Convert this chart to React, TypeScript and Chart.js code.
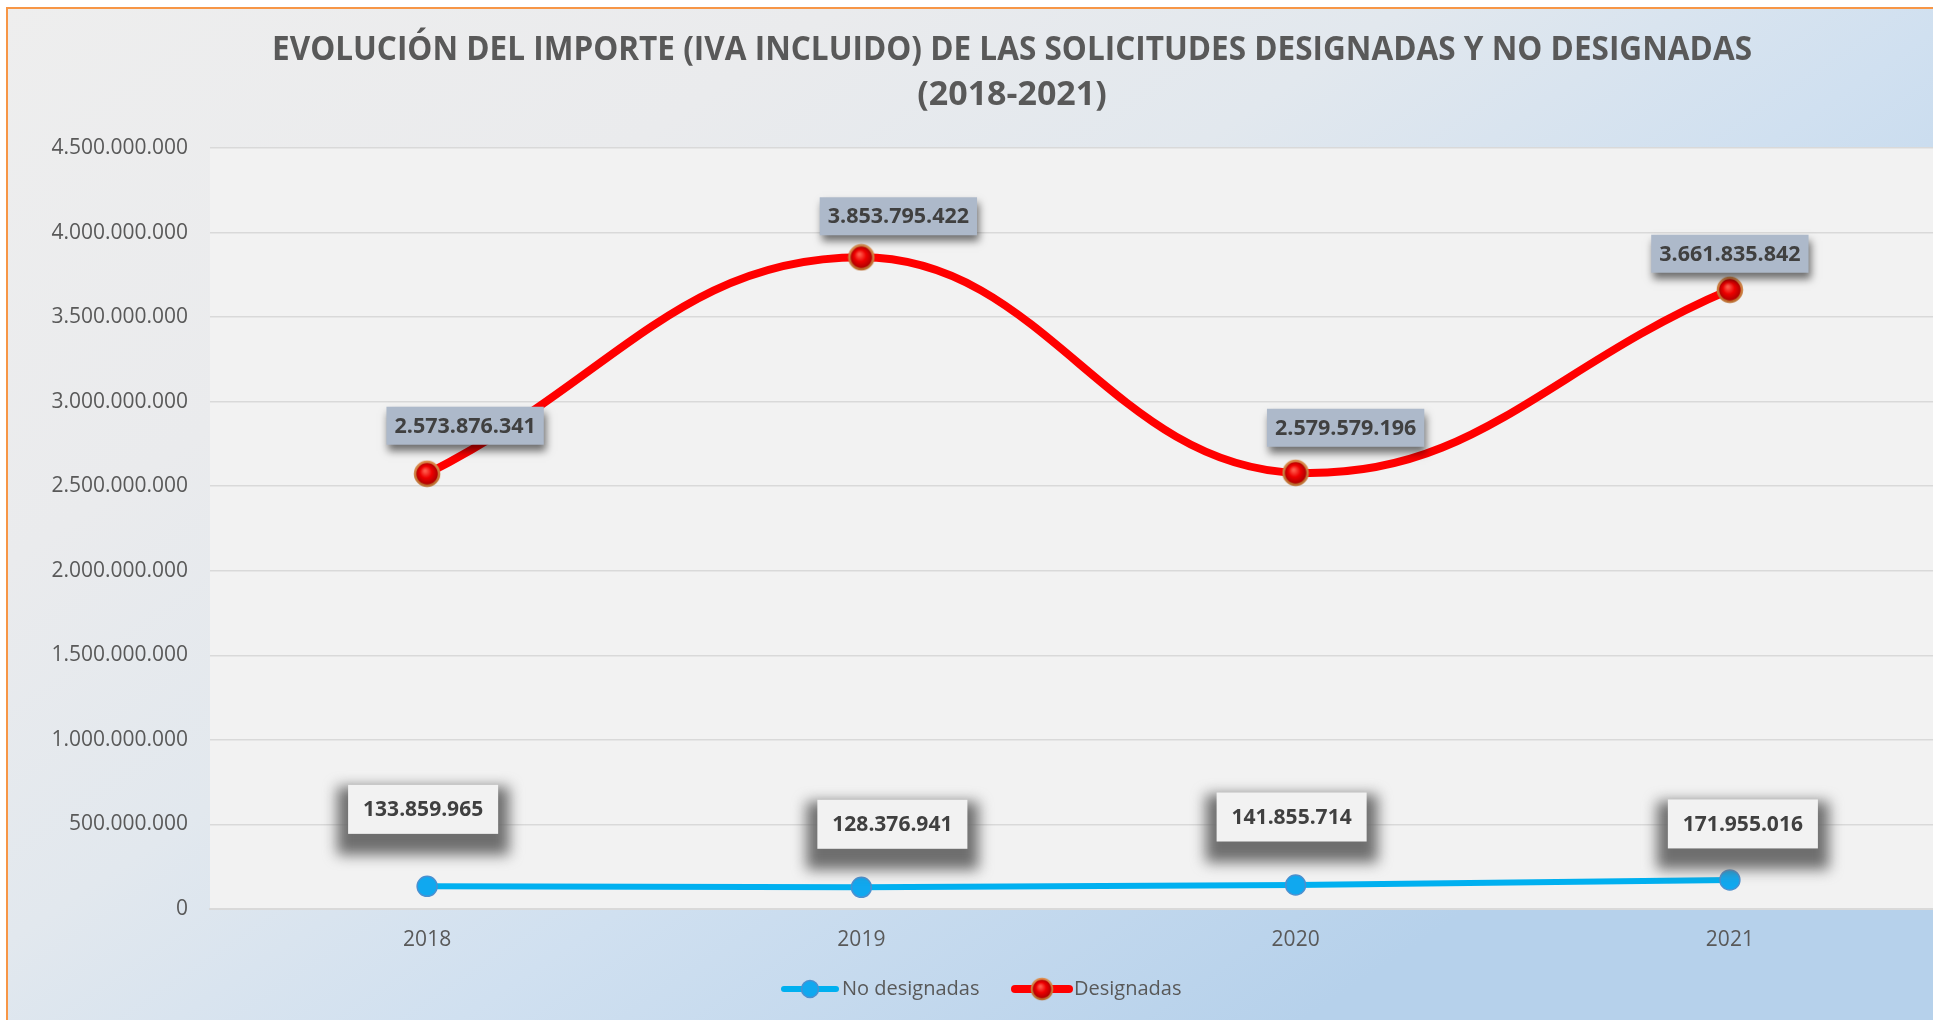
import React, { useEffect, useRef } from "react";
import { Chart, registerables } from "chart.js";

Chart.register(...registerables);

// ---------- data ----------
const years = ["2018", "2019", "2020", "2021"];
const noDesignadas = [133859965, 128376941, 141855714, 171955016];
const designadas = [2573876341, 3853795422, 2579579196, 3661835842];
const seriesNames = ["No designadas", "Designadas"];
const titleLines = [
  "EVOLUCIÓN DEL IMPORTE (IVA INCLUIDO) DE LAS SOLICITUDES DESIGNADAS Y NO DESIGNADAS",
  "(2018-2021)",
];
const yMin = 0;
const yMax = 4500000000;
const yStep = 500000000;

// label placement (offset of label centre from its point, px)
const noDesigLabelOffsets = [
  [-4, -77],
  [31, -63],
  [-4, -68],
  [13, -56],
];
const desigLabelOffsets = [
  [38, -48],
  [37, -41],
  [50, -45],
  [0, -36],
];

// ---------- helpers ----------
const FONT = "'Open Sans', 'DejaVu Sans', sans-serif";
const fmt = (n: number) => String(Math.round(n)).replace(/\B(?=(\d{3})+(?!\d))/g, ".");

const BLUE = "#00b0f0";
const RED = "#ff0000";
const CANVAS_W = 1968;
const CANVAS_H = 1020;

function makeRedPoint(): HTMLCanvasElement {
  const c = document.createElement("canvas");
  const s = 28;
  c.width = s;
  c.height = s;
  const g = c.getContext("2d")!;
  const r = 12;
  const grad = g.createRadialGradient(s / 2 - 2, s / 2 - 3, 1, s / 2, s / 2, r);
  grad.addColorStop(0, "#ff5a4a");
  grad.addColorStop(0.45, "#ee0000");
  grad.addColorStop(1, "#a00000");
  g.beginPath();
  g.arc(s / 2, s / 2, r, 0, Math.PI * 2);
  g.fillStyle = grad;
  g.fill();
  g.lineWidth = 2.5;
  const ring = g.createLinearGradient(0, 0, 0, s);
  ring.addColorStop(0, "#e09050");
  ring.addColorStop(1, "#b8682a");
  g.strokeStyle = ring;
  g.stroke();
  return c;
}

export default function App() {
  const ref = useRef<HTMLCanvasElement | null>(null);

  useEffect(() => {
    const canvas = ref.current!;
    const redPoint = makeRedPoint();

    const bgPlugin = {
      id: "bgPlugin",
      beforeDraw(chart: any) {
        const { ctx, width: W, height: H, chartArea: ca } = chart;
        ctx.save();
        ctx.fillStyle = "#ffffff";
        ctx.fillRect(0, 0, W, H);
        const g = ctx.createLinearGradient(0, 0, 1946 * 0.45, H * 0.9 + 1946 * 0.2);
        g.addColorStop(0, "#eeeeee");
        g.addColorStop(0.3, "#eaebed");
        g.addColorStop(0.5, "#e2e8ee");
        g.addColorStop(0.7, "#d0e0f0");
        g.addColorStop(1, "#b6d1eb");
        ctx.fillStyle = g;
        ctx.fillRect(7, 8, W, H);
        // orange border
        ctx.strokeStyle = "#f79646";
        ctx.lineWidth = 2;
        ctx.beginPath();
        ctx.moveTo(7, H + 5);
        ctx.lineTo(7, 8);
        ctx.lineTo(W + 5, 8);
        ctx.stroke();
        // plot area
        ctx.fillStyle = "#f2f2f2";
        ctx.fillRect(ca.left, ca.top, ca.right - ca.left, ca.bottom - ca.top);
        // title
        ctx.fillStyle = "#595959";
        ctx.font = `bold 34px ${FONT}`;
        ctx.textAlign = "center";
        ctx.textBaseline = "middle";
        ctx.fillText(titleLines[0], 1012, 50, 1480);
        ctx.fillText(titleLines[1], 1012, 95);
        ctx.restore();
      },
      afterDatasetsDraw(chart: any) {
        const ctx = chart.ctx as CanvasRenderingContext2D;
        ctx.save();
        ctx.textAlign = "center";
        ctx.textBaseline = "middle";
        // No designadas labels (white boxes, heavy soft shadow)
        ctx.font = `bold 21px ${FONT}`;
        const m0 = chart.getDatasetMeta(0);
        m0.data.forEach((pt: any, i: number) => {
          const txt = fmt(noDesignadas[i]);
          const w = ctx.measureText(txt).width + 30;
          const h = 49;
          const cx = pt.x + noDesigLabelOffsets[i][0];
          const cy = pt.y + noDesigLabelOffsets[i][1];
          const x = cx - w / 2;
          const y = cy - h / 2;
          ctx.save();
          ctx.filter = "blur(7px)";
          ctx.fillStyle = "rgba(105,105,105,0.97)";
          ctx.fillRect(x - 11, y + 2, w + 22, h + 19);
          ctx.restore();
          ctx.fillStyle = "#f2f2f2";
          ctx.fillRect(x, y, w, h);
          ctx.fillStyle = "#404040";
          ctx.fillText(txt, cx, cy + 1);
        });
        // Designadas labels (blue-grey boxes, small shadow)
        ctx.font = `bold 21.5px ${FONT}`;
        const m1 = chart.getDatasetMeta(1);
        m1.data.forEach((pt: any, i: number) => {
          const txt = fmt(designadas[i]);
          const w = ctx.measureText(txt).width + 16;
          const h = 38;
          const cx = pt.x + desigLabelOffsets[i][0];
          const cy = pt.y + desigLabelOffsets[i][1];
          const x = cx - w / 2;
          const y = cy - h / 2;
          ctx.save();
          ctx.shadowColor = "rgba(0,0,0,0.55)";
          ctx.shadowBlur = 8;
          ctx.shadowOffsetX = 2;
          ctx.shadowOffsetY = 6;
          ctx.fillStyle = "#adb9ca";
          ctx.fillRect(x, y, w, h);
          ctx.restore();
          ctx.fillStyle = "#404040";
          ctx.fillText(txt, cx, cy + 1);
        });
        ctx.restore();
      },
      afterDraw(chart: any) {
        const ctx = chart.ctx as CanvasRenderingContext2D;
        const ly = 989;
        ctx.save();
        // legend: No designadas
        ctx.lineCap = "round";
        ctx.strokeStyle = BLUE;
        ctx.lineWidth = 6;
        ctx.beginPath();
        ctx.moveTo(784, ly);
        ctx.lineTo(836, ly);
        ctx.stroke();
        ctx.beginPath();
        ctx.arc(810, ly, 8.5, 0, Math.PI * 2);
        ctx.fillStyle = "#10a8ef";
        ctx.fill();
        ctx.strokeStyle = "#4a90d0";
        ctx.lineWidth = 1.5;
        ctx.stroke();
        ctx.font = `20px ${FONT}`;
        ctx.fillStyle = "#595959";
        ctx.textAlign = "left";
        ctx.textBaseline = "middle";
        ctx.fillText(seriesNames[0], 842, ly);
        // legend: Designadas
        ctx.strokeStyle = RED;
        ctx.lineWidth = 8;
        ctx.beginPath();
        ctx.moveTo(1015, ly);
        ctx.lineTo(1069, ly);
        ctx.stroke();
        ctx.drawImage(redPoint, 1042 - 12, ly - 12, 24, 24);
        ctx.fillStyle = "#595959";
        ctx.fillText(seriesNames[1], 1074, ly);
        ctx.restore();
      },
    };

    const chart = new Chart(canvas, {
      type: "line",
      data: {
        labels: years,
        datasets: [
          {
            label: seriesNames[0],
            data: noDesignadas,
            borderColor: BLUE,
            borderWidth: 6,
            backgroundColor: "#10a8ef",
            pointBackgroundColor: "#10a8ef",
            pointBorderColor: "#4a90d0",
            pointBorderWidth: 1.5,
            pointRadius: 10,
            tension: 0,
          },
          {
            label: seriesNames[1],
            data: designadas,
            borderColor: RED,
            borderWidth: 8,
            backgroundColor: RED,
            pointStyle: redPoint as any,
            pointRadius: 13,
            tension: 0.42,
          },
        ],
      },
      options: {
        responsive: false,
        animation: false,
        devicePixelRatio: 1,
        layout: { padding: { top: 148, right: 9, bottom: 0, left: 0 } },
        plugins: {
          legend: { display: false },
          title: { display: false },
          tooltip: { enabled: false },
        },
        scales: {
          x: {
            offset: true,
            grid: { display: false, drawTicks: false },
            border: { display: true, color: "#d9d9d9", width: 2 },
            ticks: {
              color: "#595959",
              font: { family: FONT, size: 21 },
              padding: 18,
            },
            afterFit(scale: any) {
              scale.height = 111;
            },
          },
          y: {
            min: yMin,
            max: yMax,
            grid: { color: "#d9d9d9", lineWidth: 1.5, drawTicks: false },
            border: { display: false },
            ticks: {
              stepSize: yStep,
              color: "#595959",
              font: { family: FONT, size: 21 },
              padding: 22,
              callback: (v: any) => fmt(Number(v)),
            },
            afterFit(scale: any) {
              scale.width = 210;
            },
          },
        },
      },
      plugins: [bgPlugin],
    });

    return () => chart.destroy();
  }, []);

  return (
    <div
      style={{
        position: "absolute",
        left: 0,
        top: 0,
        width: 1933,
        height: 1020,
        overflow: "hidden",
        background: "#ffffff",
      }}
    >
      <canvas
        ref={ref}
        width={CANVAS_W}
        height={CANVAS_H}
        style={{ width: CANVAS_W, height: CANVAS_H, display: "block" }}
      />
    </div>
  );
}
